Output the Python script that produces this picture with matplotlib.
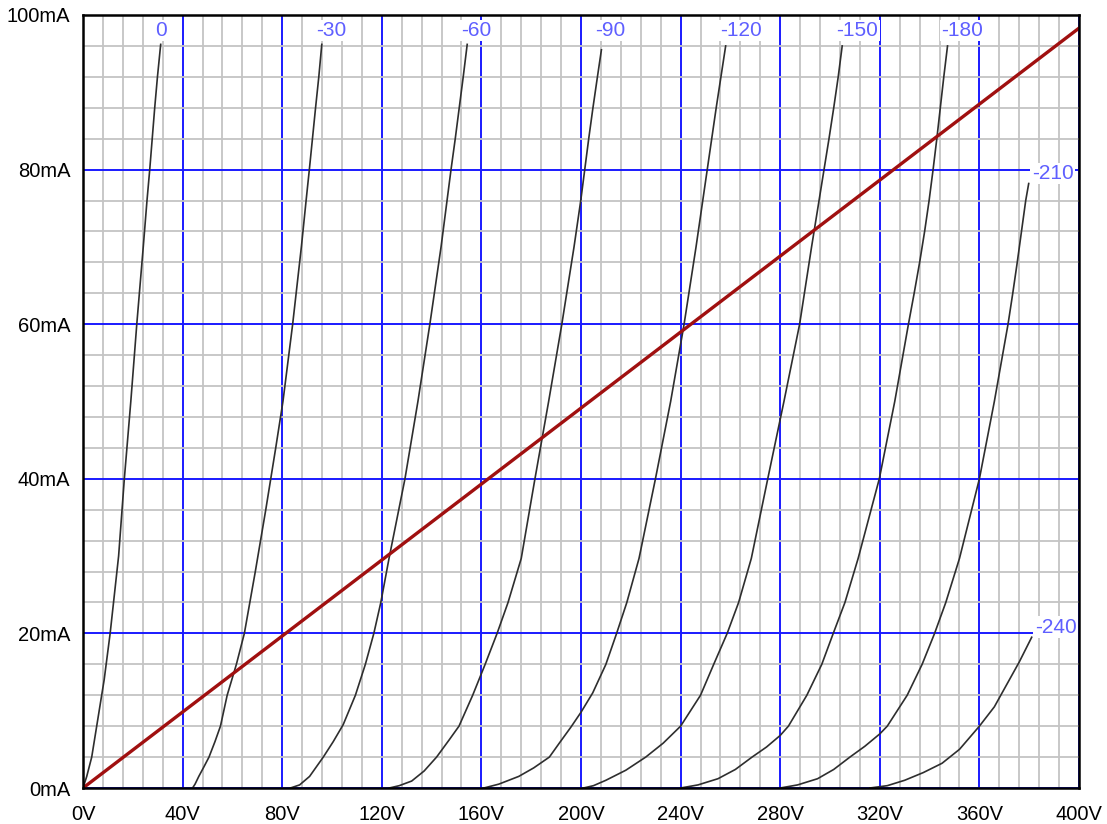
import matplotlib
matplotlib.use("Agg")
from matplotlib import pyplot as plt
from matplotlib.ticker import MultipleLocator, FuncFormatter

plt.rcParams["font.family"] = ["Liberation Sans", "DejaVu Sans"]

# plate curves, (volts, mA) per grid bias
bias_labels = ["0", "-30", "-60", "-90", "-120", "-150", "-180", "-210", "-240"]

v_0 = [0, 1.5, 3.5, 5.5, 8.5, 10.9, 14.3, 16.6, 19.2, 21.6, 24.2, 25.7, 26.8, 27.8, 28.8, 29.9, 31.2]
i_0 = [0, 1.5, 4, 8, 14, 20, 30, 40, 50, 60, 70, 76, 80, 84, 88, 92, 96.2]

v_30 = [44, 45, 46.5, 48.5, 50.6, 53, 55.2, 57.9, 61.6, 64.8, 69.2, 73.4, 77.4, 80.3, 84.2, 87.7, 89.6, 90.9, 93.4, 94.7, 95.9]
i_30 = [0, 0.5, 1.5, 2.7, 4, 6, 8, 12, 16, 20, 28, 36, 44, 50, 60, 70, 76, 80, 88, 92, 96.2]

v_60 = [83.3, 87, 91, 96.5, 100.5, 104.5, 109.4, 113.4, 116.8, 119.6, 122.9, 129.3, 134.5, 139.3, 143.8, 146.2, 147.8, 149.5, 151.1, 152.7, 154.3]
i_60 = [0, 0.4, 1.5, 4, 6, 8.2, 12, 16, 20, 24, 29.7, 40, 50, 60, 70, 76, 80, 84, 88, 92, 96.2]

v_90 = [123, 127, 132, 137, 142, 147, 151, 156.5, 161.5, 166.3, 170.7, 176, 181.5, 187, 192.3, 197.2, 199.9, 201.5, 203.1, 204.8, 206.6, 208.2]
i_90 = [0, 0.3, 0.9, 2.2, 4, 6.2, 8, 12, 16, 20, 24, 29.7, 40, 50, 60, 70, 76, 80, 84, 88, 92, 95.5]

v_120 = [161, 167, 175, 181, 187.3, 191.5, 196, 200, 204.7, 210, 214.3, 218.4, 223.3, 229.9, 236, 241.4, 246.2, 248.9, 250.7, 252.5, 254.3, 256.2, 258.1]
i_120 = [0, 0.5, 1.5, 2.6, 4, 5.9, 7.9, 9.8, 12.3, 16, 20, 24, 29.7, 40, 50, 60, 70, 76, 80, 84, 88, 92, 96]

v_150 = [201, 205, 210, 218, 226, 233, 240, 248, 253.3, 258.7, 263.3, 268.4, 275, 281.5, 287.8, 292.6, 295.6, 297.6, 299.6, 301.5, 303.3, 304.9]
i_150 = [0, 0.3, 1, 2.3, 4, 5.8, 8, 12, 16, 20, 24, 29.7, 40, 50, 60, 70, 76, 80, 84, 88, 92, 96]

v_180 = [240, 247, 255, 262, 268.7, 274.5, 280, 283.3, 290.7, 296.7, 301.3, 306, 311.3, 319.8, 326, 331.5, 333.8, 336, 338, 339.8, 341.4, 342.9, 344.3, 345.7, 347.2]
i_180 = [0, 0.4, 1.2, 2.4, 4, 5.3, 6.8, 8, 12, 16, 20, 24, 29.7, 40, 50, 60, 64, 68, 72, 76, 80, 84, 88, 92, 96]

v_210 = [280, 287, 295, 301.5, 308, 314, 320, 323, 331, 337, 342, 346.5, 352, 360, 366, 371.5, 373.4, 375.2, 376.9, 378.6, 379.8]
i_210 = [0, 0.4, 1.2, 2.4, 4, 5.4, 7, 8, 12, 16, 20, 24, 29.7, 40, 50, 60, 64, 68, 72, 76, 78.2]

v_240 = [316, 323, 330, 337.5, 345, 352, 360, 366, 371, 376, 381]
i_240 = [0, 0.3, 1, 2, 3.2, 5, 8, 10.5, 13.4, 16.3, 19.5]

curves_v = [v_0, v_30, v_60, v_90, v_120, v_150, v_180, v_210, v_240]
curves_i = [i_0, i_30, i_60, i_90, i_120, i_150, i_180, i_210, i_240]

# load line end points
load_v = [0, 400]
load_i = [0, 98.3]

x_ticks = [0, 40, 80, 120, 160, 200, 240, 280, 320, 360, 400]
y_ticks = [0, 20, 40, 60, 80, 100]

fig = plt.figure(figsize=(11.07, 8.24), dpi=100)
ax = fig.add_axes([83 / 1107, 36 / 824, 996 / 1107, 773 / 824])

ax.set_xlim(0, 400)
ax.set_ylim(0, 100)
ax.set_xticks(x_ticks)
ax.set_yticks(y_ticks)
ax.xaxis.set_minor_locator(MultipleLocator(8))
ax.yaxis.set_minor_locator(MultipleLocator(4))
ax.xaxis.set_major_formatter(FuncFormatter(lambda v, p: f"{v:.0f}V"))
ax.yaxis.set_major_formatter(FuncFormatter(lambda v, p: f"{v:.0f}mA"))
ax.grid(which="minor", color="#c4c4c4", lw=1.3)
ax.grid(which="major", color="#1a1aff", lw=1.4)
ax.set_axisbelow(True)
ax.tick_params(which="both", length=0)
ax.tick_params(axis="x", pad=12, labelsize=14.5)
ax.tick_params(axis="y", pad=9, labelsize=14.5)
for s in ax.spines.values():
    s.set_linewidth(1.8)
    s.set_zorder(5)

for k, (vs, cs) in enumerate(zip(curves_v, curves_i)):
    ax.plot(vs, cs, color="#2e2e2e", lw=1.2, zorder=3)
    if k < 7:
        # labels along the top edge, just left of the curve end
        xy, off = (vs[-1], 98), (-6, 0)
    else:
        xy, off = (vs[-1], cs[-1]), (3, 10)
    ax.annotate(bias_labels[k], xy, xytext=off, textcoords="offset pixels",
                ha="left", va="center", fontsize=15, color="#5f5fff", zorder=4,
                bbox=dict(facecolor="white", edgecolor="none", pad=1))

ax.plot(load_v, load_i, color="#a01010", lw=2.4, zorder=4)

plt.savefig("out.png", dpi=100)
